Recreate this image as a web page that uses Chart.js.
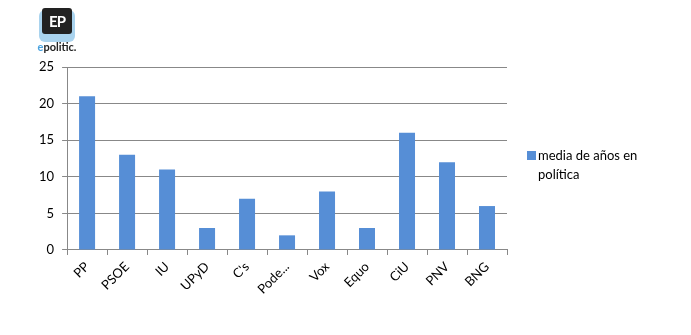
<!DOCTYPE html>
<html>
<head>
<meta charset="utf-8">
<script src="https://cdn.jsdelivr.net/npm/chart.js@4/dist/chart.umd.min.js"></script>
<style>
  body { margin: 0; background: #fff; }
  #wrap { position: relative; width: 691px; height: 335px; }
  #logo { position: absolute; left: 33px; top: 8px; width: 48px; text-align: center; font-family: Lato, sans-serif; }
  #logo .box { margin: 0 auto; width: 30px; height: 26px; background: #222; border-radius: 3px;
    color: #fff; font-weight: bold; font-size: 15px; line-height: 26px; letter-spacing: -1px;
    box-shadow: 0 5px 0 3px #a9d3ee; }
  #logo .txt { margin-top: 6px; font-size: 11px; font-weight: bold; color: #222; }
  #logo .txt span { color: #4aa3df; }
</style>
</head>
<body>
<div id="wrap">
  <canvas id="chart" width="691" height="335"></canvas>
  <div id="logo"><div class="box">EP</div><div class="txt"><span>e</span>politic.</div></div>
</div>
<script>
// values
const partidos = ['PP', 'PSOE', 'IU', 'UPyD', "C's", 'Pode...', 'Vox', 'Equo', 'CiU', 'PNV', 'BNG'];
const mediaAnos = [21, 13, 11, 3, 7, 2, 8, 3, 16, 12, 6];
const serieNombre = 'media de años en política';
const barColor = '#568ED6';

// legend drawn by hand so the label can wrap on two lines
const sideLegend = {
  id: 'sideLegend',
  afterDraw(chart) {
    const ctx = chart.ctx;
    const ds = chart.data.datasets[0];
    const lines = ['media de años en', 'política'];
    const x = chart.chartArea.right + 20;
    const y = 156;
    ctx.save();
    ctx.fillStyle = ds.backgroundColor;
    ctx.fillRect(x, y - 5, 9, 9);
    ctx.fillStyle = '#000';
    ctx.font = '13px Lato, sans-serif';
    ctx.textBaseline = 'middle';
    lines.forEach((l, i) => ctx.fillText(l, x + 11, y + i * 19));
    ctx.restore();
  }
};

const ctx = document.getElementById('chart').getContext('2d');
new Chart(ctx, {
  type: 'bar',
  data: {
    labels: partidos,
    datasets: [{
      label: serieNombre,
      data: mediaAnos,
      backgroundColor: barColor,
      barPercentage: 0.4,
      categoryPercentage: 1
    }]
  },
  options: {
    responsive: false,
    animation: false,
    layout: { padding: { left: 31, top: 67, right: 184, bottom: 34 } },
    plugins: { legend: { display: false }, tooltip: { enabled: false } },
    scales: {
      x: {
        grid: { drawOnChartArea: false, color: '#888', tickLength: 5 },
        border: { color: '#888' },
        ticks: { color: '#000', font: { family: 'Lato', size: 13 }, maxRotation: 45, minRotation: 45, padding: 4 }
      },
      y: {
        min: 0, max: 25,
        grid: { color: '#888', tickLength: 5 },
        border: { color: '#888' },
        ticks: { stepSize: 5, color: '#000', font: { family: 'Lato', size: 13 }, padding: 8 }
      }
    }
  },
  plugins: [sideLegend]
});
</script>
</body>
</html>
